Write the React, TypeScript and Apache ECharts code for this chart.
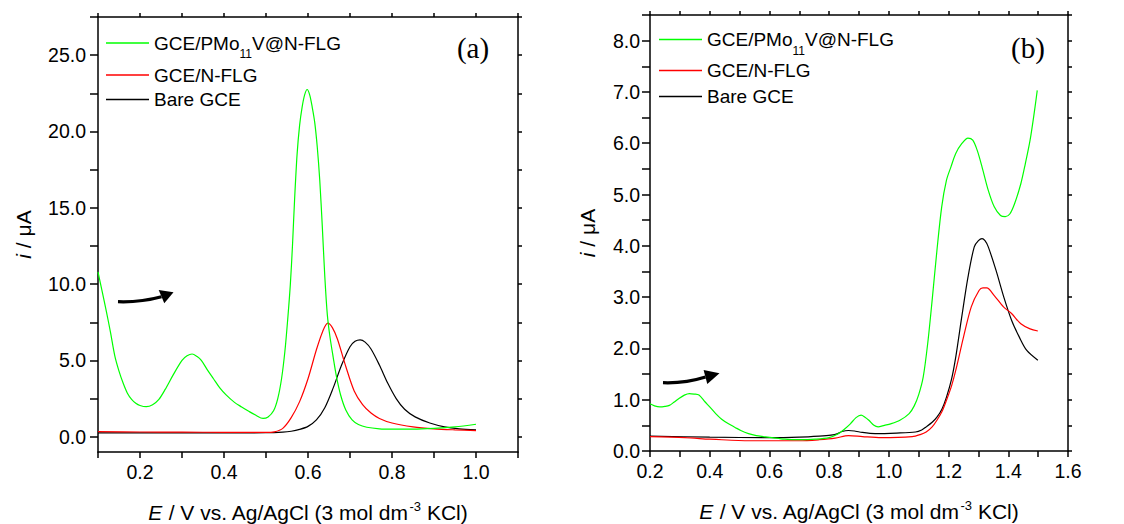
import React, { useEffect, useRef } from "react";
import * as echarts from "echarts";

// ---------- Panel (a) data: E / V, i / µA ----------
const aGreen: number[][] = [
  [0.1, 10.8], [0.11, 9.5], [0.12, 8.2], [0.13, 6.8], [0.14, 5.3], [0.15, 4.3], [0.16, 3.5], [0.17, 2.85],
  [0.18, 2.45], [0.19, 2.2], [0.2, 2.05], [0.215, 1.97], [0.23, 2.1], [0.245, 2.45], [0.26, 3.1],
  [0.279, 4.05], [0.3, 5.0], [0.312, 5.3], [0.324, 5.42], [0.336, 5.25], [0.346, 5.0], [0.36, 4.4],
  [0.375, 3.8], [0.39, 3.2], [0.405, 2.74], [0.425, 2.25], [0.442, 1.95], [0.46, 1.65], [0.475, 1.42],
  [0.493, 1.2], [0.505, 1.3], [0.518, 1.7], [0.528, 2.5], [0.537, 3.8], [0.545, 5.6], [0.552, 7.8],
  [0.558, 10.0], [0.563, 12.5], [0.568, 15.5], [0.574, 18.5], [0.58, 20.4], [0.586, 21.6], [0.592, 22.4],
  [0.598, 22.75], [0.604, 22.4], [0.61, 21.6], [0.616, 20.6], [0.622, 19.0], [0.628, 16.8], [0.634, 13.8],
  [0.64, 10.5], [0.646, 8.0], [0.652, 6.6], [0.66, 5.2], [0.668, 3.9], [0.678, 2.7], [0.69, 1.75],
  [0.705, 1.1], [0.72, 0.8], [0.74, 0.62], [0.77, 0.52], [0.8, 0.5], [0.85, 0.5], [0.9, 0.55],
  [0.95, 0.65], [1.0, 0.82],
];
const aRed: number[][] = [
  [0.1, 0.33], [0.2, 0.31], [0.3, 0.3], [0.4, 0.29], [0.5, 0.28], [0.52, 0.32], [0.54, 0.55], [0.56, 1.25],
  [0.58, 2.3], [0.6, 3.8], [0.62, 5.7], [0.635, 6.9], [0.647, 7.44], [0.658, 7.15], [0.67, 6.4], [0.69, 4.6],
  [0.71, 3.0], [0.73, 2.1], [0.75, 1.55], [0.77, 1.2], [0.8, 0.9], [0.85, 0.65], [0.9, 0.52], [0.95, 0.45],
  [1.0, 0.4],
];
const aBlack: number[][] = [
  [0.1, 0.25], [0.3, 0.25], [0.5, 0.26], [0.54, 0.3], [0.56, 0.36], [0.58, 0.48], [0.6, 0.68], [0.62, 1.1],
  [0.64, 1.9], [0.66, 3.2], [0.68, 4.7], [0.7, 5.9], [0.712, 6.25], [0.724, 6.35], [0.736, 6.2], [0.75, 5.75],
  [0.77, 4.7], [0.79, 3.5], [0.81, 2.5], [0.83, 1.8], [0.855, 1.3], [0.89, 0.9], [0.925, 0.65], [0.96, 0.52],
  [1.0, 0.45],
];

// ---------- Panel (b) data ----------
const bGreen: number[][] = [
  [0.2, 0.92], [0.215, 0.88], [0.233, 0.86], [0.25, 0.87], [0.265, 0.89], [0.28, 0.95], [0.296, 1.02],
  [0.315, 1.09], [0.332, 1.12], [0.348, 1.11], [0.364, 1.09], [0.384, 0.96], [0.4, 0.86], [0.42, 0.73],
  [0.44, 0.62], [0.463, 0.53], [0.485, 0.46], [0.504, 0.4], [0.53, 0.34], [0.556, 0.3], [0.58, 0.28],
  [0.608, 0.26], [0.65, 0.23], [0.7, 0.22], [0.754, 0.23], [0.8, 0.26], [0.829, 0.33], [0.85, 0.42],
  [0.871, 0.53], [0.89, 0.65], [0.907, 0.7], [0.92, 0.66], [0.933, 0.6], [0.95, 0.5], [0.964, 0.47],
  [0.985, 0.5], [1.006, 0.53], [1.037, 0.6], [1.068, 0.73], [1.085, 0.88], [1.1, 1.1], [1.115, 1.44],
  [1.13, 2.09], [1.146, 3.0], [1.161, 3.91], [1.177, 4.76], [1.193, 5.28], [1.208, 5.54], [1.224, 5.8],
  [1.244, 5.99], [1.265, 6.1], [1.281, 6.06], [1.296, 5.86], [1.312, 5.54], [1.333, 5.08], [1.353, 4.76],
  [1.374, 4.59], [1.39, 4.57], [1.405, 4.62], [1.421, 4.82], [1.442, 5.21], [1.457, 5.6], [1.473, 6.06],
  [1.488, 6.64], [1.497, 7.03],
];
const bRed: number[][] = [
  [0.2, 0.28], [0.317, 0.26], [0.4, 0.23], [0.473, 0.21], [0.55, 0.2], [0.63, 0.2], [0.7, 0.2],
  [0.767, 0.22], [0.82, 0.25], [0.865, 0.3], [0.912, 0.28], [0.975, 0.26], [1.078, 0.28], [1.105, 0.32],
  [1.125, 0.37], [1.145, 0.47], [1.161, 0.6], [1.178, 0.77], [1.193, 0.99], [1.21, 1.27], [1.224, 1.57],
  [1.25, 2.22], [1.276, 2.81], [1.302, 3.13], [1.315, 3.18], [1.328, 3.18], [1.353, 3.03], [1.384, 2.81],
  [1.411, 2.68], [1.442, 2.48], [1.473, 2.38], [1.499, 2.34],
];
const bBlack: number[][] = [
  [0.2, 0.29], [0.4, 0.27], [0.6, 0.26], [0.7, 0.27], [0.767, 0.29], [0.806, 0.31], [0.829, 0.34],
  [0.843, 0.38], [0.865, 0.4], [0.885, 0.39], [0.902, 0.37], [0.954, 0.34], [1.026, 0.35], [1.089, 0.37],
  [1.11, 0.41], [1.125, 0.47], [1.145, 0.56], [1.161, 0.66], [1.178, 0.82], [1.193, 1.05], [1.21, 1.4],
  [1.224, 1.83], [1.244, 2.61], [1.265, 3.39], [1.286, 3.98], [1.3, 4.1], [1.312, 4.14], [1.322, 4.1],
  [1.333, 3.98], [1.359, 3.52], [1.385, 3.0], [1.411, 2.55], [1.437, 2.22], [1.462, 1.96], [1.499, 1.77],
];

// ---------- names and ticks ----------
const seriesNames = ["GCE/PMo11V@N-FLG", "GCE/N-FLG", "Bare GCE"];
const aXLabels = [0.2, 0.4, 0.6, 0.8, 1.0];
const aXTicks = [0.1, 0.2, 0.3, 0.4, 0.5, 0.6, 0.7, 0.8, 0.9, 1.0, 1.1];
const aYLabels = [0, 5, 10, 15, 20, 25];
const aYTicks = [0, 2.5, 5, 7.5, 10, 12.5, 15, 17.5, 20, 22.5, 25, 27.5];
const bXLabels = [0.2, 0.4, 0.6, 0.8, 1.0, 1.2, 1.4, 1.6];
const bXTicks = [0.2, 0.3, 0.4, 0.5, 0.6, 0.7, 0.8, 0.9, 1.0, 1.1, 1.2, 1.3, 1.4, 1.5, 1.6];
const bYLabels = [0, 1, 2, 3, 4, 5, 6, 7, 8];
const bYTicks = [0, 0.5, 1, 1.5, 2, 2.5, 3, 3.5, 4, 4.5, 5, 5.5, 6, 6.5, 7, 7.5, 8, 8.5];

const SANS = "'Liberation Sans', Arial, sans-serif";
const SERIF = "'Liberation Serif', 'Times New Roman', serif";
const COLORS = ["#00ff00", "#ff0000", "#000000"];

export default function App() {
  const ref = useRef<HTMLDivElement>(null);

  useEffect(() => {
    if (!ref.current) return;
    const chart = echarts.init(ref.current, undefined, { renderer: "svg" });

    const lineStyle = { color: "#000", width: 1.5 };
    const txt = { fontFamily: SANS, fontSize: 19, color: "#000" };
    const tick = { fontFamily: SANS, fontSize: 19.5, color: "#000" };
    const big = { fontFamily: SANS, fontSize: 21, color: "#000" };
    const fmt = (v: number) => v.toFixed(1);

    const xName = "{e|E}{t| / V vs. Ag/AgCl (3 mol dm}{s|-3}{t| KCl)}";
    const yName = "{e|i}{t| / μA}";
    const nameRich = {
      e: { ...big, fontStyle: "italic", lineHeight: 24 },
      t: { ...big, lineHeight: 24 },
      s: { fontFamily: SANS, fontSize: 13, color: "#000", lineHeight: 13, verticalAlign: "top", padding: [0, 0, 0, 1] },
    };

    const bottomX = (gi: number, min: number, max: number, labels: number[], ticks: number[]) => ({
      type: "value", gridIndex: gi, position: "bottom", min, max,
      axisLine: { show: true, onZero: false, lineStyle },
      axisTick: { show: true, length: 6, customValues: ticks, lineStyle },
      axisLabel: { ...tick, customValues: labels, formatter: fmt, margin: 10 },
      splitLine: { show: false },
      name: xName, nameLocation: "middle", nameGap: 48,
      nameTextStyle: { rich: nameRich },
    });
    const topX = (gi: number, min: number, max: number, ticks: number[]) => ({
      type: "value", gridIndex: gi, position: "top", min, max,
      axisLine: { show: true, onZero: false, lineStyle },
      axisTick: { show: true, length: 4, customValues: ticks, lineStyle },
      axisLabel: { show: false },
      splitLine: { show: false },
    });
    const leftY = (gi: number, min: number, max: number, labels: number[], ticks: number[], gap: number, margin: number) => ({
      type: "value", gridIndex: gi, position: "left", min, max,
      axisLine: { show: true, onZero: false, lineStyle },
      axisTick: { show: true, length: 8, customValues: ticks, lineStyle },
      axisLabel: { ...tick, customValues: labels, formatter: fmt, margin },
      splitLine: { show: false },
      name: yName, nameLocation: "middle", nameGap: gap, nameRotate: 90,
      nameTextStyle: { rich: nameRich },
    });
    const rightY = (gi: number, min: number, max: number, ticks: number[]) => ({
      type: "value", gridIndex: gi, position: "right", min, max,
      axisLine: { show: true, onZero: false, lineStyle },
      axisTick: { show: true, length: 4, customValues: ticks, lineStyle },
      axisLabel: { show: false },
      splitLine: { show: false },
    });

    const legendRich = {
      a: { ...txt, lineHeight: 22 },
      s: { fontFamily: SANS, fontSize: 12, color: "#000", lineHeight: 12, verticalAlign: "top", padding: [16, 0, 0, 0] },
      b: { ...txt, lineHeight: 22 },
    };
    const legendFmt = (name: string) =>
      name === seriesNames[0] ? "{a|GCE/PMo}{s|11}{a|V@N-FLG}" : `{b|${name}}`;
    // one legend entry per component, so each row sits where the reference has it
    const legendItem = (name: string, left: number, top: number) => ({
      left, top, padding: 0, orient: "vertical", icon: "rect", itemWidth: 43, itemHeight: 1.5,
      selectedMode: false, data: [name], formatter: legendFmt,
      textStyle: { ...txt, rich: legendRich },
    });

    const mk = (name: string, data: number[][], color: string, xi: number, yi: number) => ({
      type: "line", name, data, xAxisIndex: xi, yAxisIndex: yi,
      symbol: "none", showSymbol: false, smooth: 0.3,
      lineStyle: { color, width: 1.2 }, itemStyle: { color },
    });

    const arrow = (tail: number[], ctrl: number[], end: number[], tip: number[], c1: number[], c2: number[]) => ({
      type: "group",
      children: [
        {
          type: "bezierCurve",
          shape: { x1: tail[0], y1: tail[1], cpx1: ctrl[0], cpy1: ctrl[1], x2: end[0], y2: end[1] },
          style: { stroke: "#000", lineWidth: 3.2, fill: null },
        },
        { type: "polygon", shape: { points: [tip, c1, c2] }, style: { fill: "#000" } },
      ],
    });

    chart.setOption({
      animation: false,
      backgroundColor: "#fff",
      grid: [
        { left: 98, right: 606, top: 17, bottom: 72, outerBoundsMode: "none" },
        { left: 650, right: 56, top: 15, bottom: 73, outerBoundsMode: "none" },
      ],
      xAxis: [
        bottomX(0, 0.1, 1.1, aXLabels, aXTicks),
        topX(0, 0.1, 1.1, aXTicks),
        bottomX(1, 0.2, 1.6, bXLabels, bXTicks),
        topX(1, 0.2, 1.6, bXTicks),
      ],
      yAxis: [
        leftY(0, -1, 27.5, aYLabels, aYTicks, 63, 12),
        rightY(0, -1, 27.5, aYTicks),
        leftY(1, 0, 8.5, bYLabels, bYTicks, 51, 10),
        rightY(1, 0, 8.5, bYTicks),
      ],
      legend: [
        legendItem(seriesNames[0], 106, 32),
        legendItem(seriesNames[1], 106, 65.5),
        legendItem(seriesNames[2], 106, 90),
        legendItem(seriesNames[0], 659, 28.5),
        legendItem(seriesNames[1], 659, 61),
        legendItem(seriesNames[2], 659, 87),
      ],
      series: [
        mk(seriesNames[2], aBlack, COLORS[2], 0, 0),
        mk(seriesNames[1], aRed, COLORS[1], 0, 0),
        mk(seriesNames[0], aGreen, COLORS[0], 0, 0),
        mk(seriesNames[2], bBlack, COLORS[2], 2, 2),
        mk(seriesNames[1], bRed, COLORS[1], 2, 2),
        mk(seriesNames[0], bGreen, COLORS[0], 2, 2),
      ],
      graphic: [
        { type: "text", x: 473, y: 48, style: { text: "(a)", font: `29px ${SERIF}`, fill: "#000", textAlign: "center", textVerticalAlign: "middle" } },
        { type: "text", x: 1028, y: 48, style: { text: "(b)", font: `29px ${SERIF}`, fill: "#000", textAlign: "center", textVerticalAlign: "middle" } },
        arrow([118, 301.7], [140, 302.5], [161.5, 296.7], [173.5, 292.3], [158.7, 290], [164.3, 303.3]),
        arrow([663, 382.7], [685, 383.5], [705.5, 377], [719.5, 373.3], [703.6, 370], [707.3, 384]),
      ],
    });

    return () => chart.dispose();
  }, []);

  return (
    <div
      ref={ref}
      style={{ position: "fixed", left: 0, top: 0, width: 1124, height: 524, background: "#fff" }}
    />
  );
}
